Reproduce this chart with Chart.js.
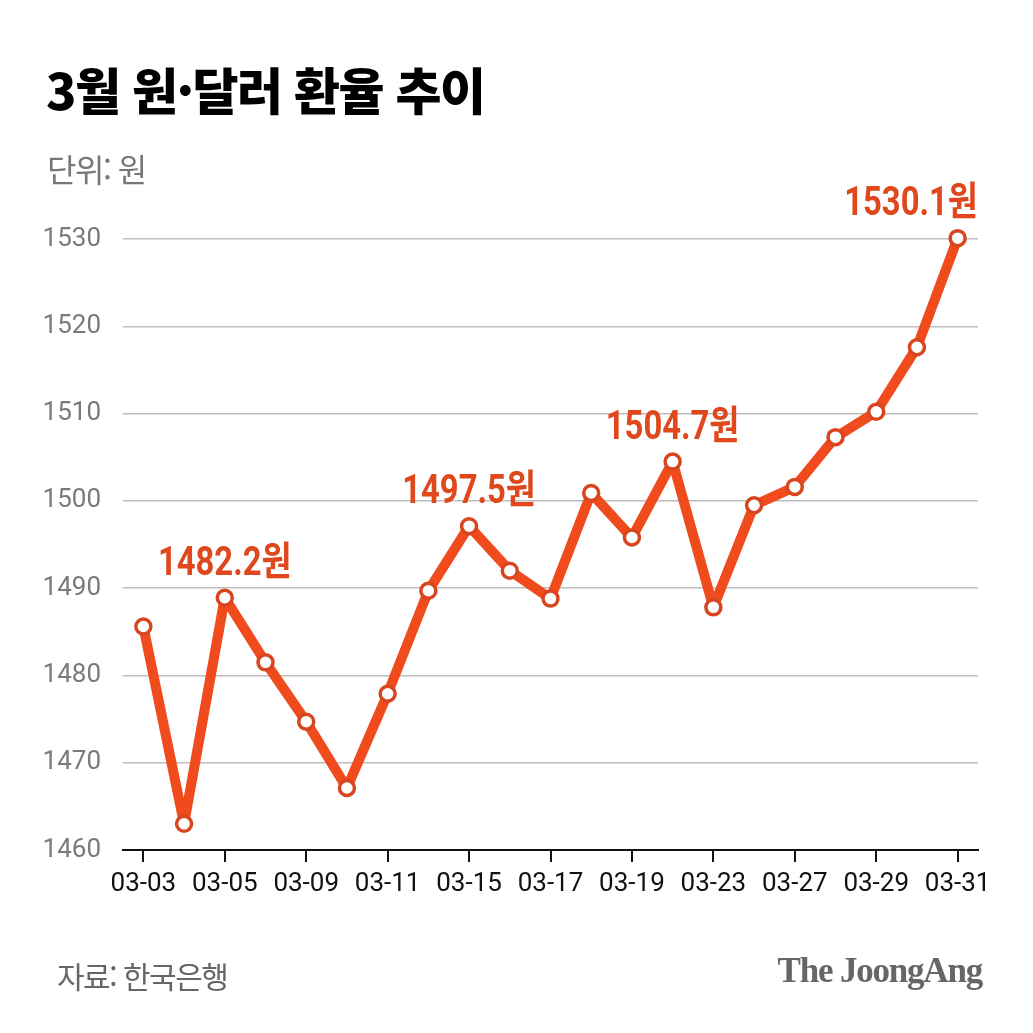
<!DOCTYPE html>
<html lang="ko">
<head>
<meta charset="utf-8">
<script src="https://cdn.jsdelivr.net/npm/chart.js@4/dist/chart.umd.min.js"></script>
<style>
  html, body { margin: 0; padding: 0; background: #fff; overflow: hidden; }
  #wrap { position: relative; width: 1033px; height: 1033px; }
  #chart { position: absolute; left: 0; top: 0; }
  .txt { position: absolute; white-space: nowrap; line-height: 1; }
  #title { left: 46px; top: 52px; font: 900 50px "Noto Sans CJK KR"; color: #000; letter-spacing: -1.5px; }
  #unit { left: 47px; top: 145px; font: 400 32px "Noto Sans CJK KR"; color: #777; letter-spacing: -1.5px; }
  #source { left: 57px; top: 953px; font: 400 30px "Noto Sans CJK KR"; color: #666; letter-spacing: -1.5px; }
  #brand { right: 51px; top: 951px; font: bold 35px "Liberation Serif"; color: #666; letter-spacing: -1.2px; }
</style>
</head>
<body>
<div id="wrap">
  <canvas id="chart" width="1033" height="1033"></canvas>
  <div class="txt" id="title">3월 원·달러 환율 추이</div>
  <div class="txt" id="unit">단위: 원</div>
  <div class="txt" id="source">자료: 한국은행</div>
  <div class="txt" id="brand">The JoongAng</div>
</div>
<script>
// x축: 값이 있는 날짜 중 눈금 라벨이 붙은 것만 표기
const dayLabels = ['03-03', '', '03-05', '', '03-09', '', '03-11', '', '03-15', '', '03-17',
                   '', '03-19', '', '03-23', '', '03-27', '', '03-29', '', '03-31'];
const rateValues = [1485.6, 1463.0, 1488.9, 1481.5, 1474.7, 1467.1, 1477.9, 1489.7, 1497.1, 1492.0, 1488.8,
                    1500.9, 1495.8, 1504.5, 1487.8, 1499.5, 1501.6, 1507.3, 1510.2, 1517.6, 1530.1];
const yMin = 1460;
const yMax = 1530;
const yStep = 10;
const calloutIndex = [2, 8, 13, 20];
const calloutText = ['1482.2원', '1497.5원', '1504.7원', '1530.1원'];

const LINE = '#F04B1C';

// 강조 값 라벨 (점 위에 표시)
const calloutPlugin = {
    id: 'callouts',
    afterDatasetsDraw(chart) {
        const { ctx, chartArea } = chart;
        const pts = chart.getDatasetMeta(0).data;
        const squeeze = 0.82;
        ctx.save();
        ctx.font = 'bold 40px Roboto, "Noto Sans CJK KR"';
        ctx.fillStyle = '#DF481C';
        ctx.textAlign = 'center';
        ctx.textBaseline = 'middle';
        calloutIndex.forEach((idx, k) => {
            const p = pts[idx];
            const w = ctx.measureText(calloutText[k]).width * squeeze;
            const cx = Math.min(p.x, chartArea.right - w / 2);
            ctx.save();
            ctx.translate(cx, p.y - 33);
            ctx.scale(squeeze, 1);
            ctx.fillText(calloutText[k], 0, 0);
            ctx.restore();
        });
        ctx.restore();
    }
};

new Chart(document.getElementById('chart'), {
    type: 'line',
    data: {
        labels: dayLabels,
        datasets: [{
            data: rateValues,
            borderColor: LINE,
            borderWidth: 10,
            borderJoinStyle: 'round',
            borderCapStyle: 'round',
            tension: 0,
            pointRadius: 7.5,
            pointBorderWidth: 3.5,
            pointBackgroundColor: '#fff',
            pointBorderColor: '#D8461F',
            clip: false
        }]
    },
    options: {
        responsive: false,
        animation: false,
        layout: { padding: { top: 239, right: 55, bottom: 123, left: 0 } },
        plugins: {
            legend: { display: false },
            tooltip: { enabled: false }
        },
        scales: {
            x: {
                offset: true,
                afterFit: s => { s.height = 60; },
                border: { display: true, color: '#111', width: 2 },
                grid: {
                    drawOnChartArea: false,
                    drawTicks: true,
                    tickLength: 12,
                    lineWidth: 2,
                    color: c => dayLabels[c.index] ? '#111' : 'rgba(0,0,0,0)'
                },
                ticks: {
                    autoSkip: false,
                    maxRotation: 0,
                    padding: 7,
                    color: '#111',
                    font: { family: 'Roboto', size: 26 }
                }
            },
            y: {
                min: yMin,
                max: yMax,
                afterFit: s => { s.width = 123; },
                border: { display: false },
                grid: {
                    drawTicks: false,
                    lineWidth: 1.5,
                    color: c => c.tick.value === yMin ? 'rgba(0,0,0,0)' : '#bdbdbd'
                },
                ticks: {
                    stepSize: yStep,
                    padding: 22,
                    color: '#7a7a7a',
                    font: { family: 'Roboto', size: 26 },
                    callback: v => String(v)
                }
            }
        }
    },
    plugins: [calloutPlugin]
});
</script>
</body>
</html>
